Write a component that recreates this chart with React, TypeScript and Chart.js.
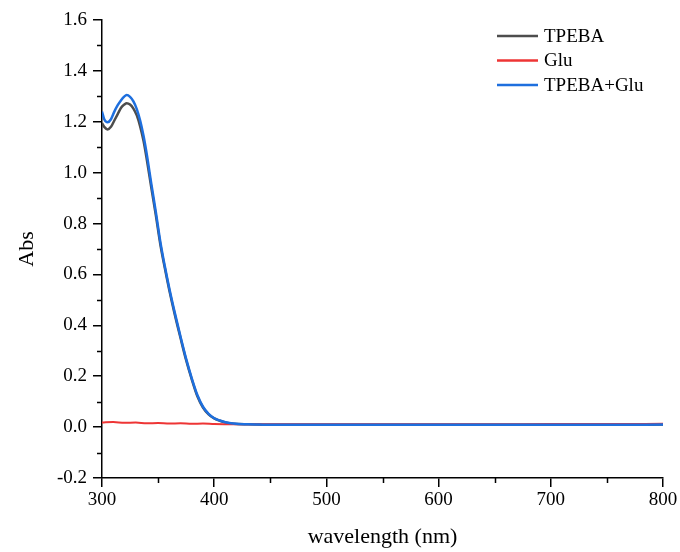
import React, { useEffect, useRef } from "react";
import { Chart, registerables } from "chart.js";

Chart.register(...registerables);

const wavelengths = [300, 302, 305, 308, 311, 314, 317, 320, 322, 325, 328, 331, 334, 337, 340, 344, 348, 352, 356, 360, 365, 370, 375, 380, 385, 390, 395, 400, 405, 410, 415, 420, 430, 440, 450, 475, 500, 550, 600, 650, 700, 750, 800];

const tpeba = [1.195, 1.18, 1.17, 1.18, 1.205, 1.23, 1.255, 1.268, 1.273, 1.268, 1.252, 1.225, 1.182, 1.125, 1.05, 0.94, 0.832, 0.718, 0.625, 0.538, 0.44, 0.35, 0.263, 0.188, 0.121, 0.077, 0.05, 0.034, 0.025, 0.018, 0.014, 0.012, 0.011, 0.01, 0.009, 0.009, 0.009, 0.009, 0.009, 0.009, 0.009, 0.009, 0.01];

const tpebaGlu = [1.24, 1.21, 1.198, 1.21, 1.24, 1.265, 1.285, 1.3, 1.305, 1.298, 1.28, 1.25, 1.205, 1.145, 1.07, 0.955, 0.845, 0.728, 0.632, 0.545, 0.447, 0.355, 0.268, 0.192, 0.126, 0.08, 0.052, 0.035, 0.026, 0.019, 0.015, 0.013, 0.011, 0.01, 0.009, 0.009, 0.009, 0.009, 0.009, 0.009, 0.009, 0.009, 0.01];

const gluWavelengths = [300, 310, 320, 330, 340, 350, 360, 370, 380, 390, 400, 420, 450, 500, 550, 600, 650, 700, 750, 800];
const glu = [0.018, 0.02, 0.017, 0.018, 0.015, 0.016, 0.014, 0.015, 0.013, 0.014, 0.012, 0.011, 0.011, 0.011, 0.011, 0.011, 0.011, 0.012, 0.012, 0.013];

const seriesNames = ["TPEBA", "Glu", "TPEBA+Glu"];
const seriesColors = ["#4d4d4d", "#ee3535", "#1e6fde"];

const yMinorTicks = [-0.1, 0.1, 0.3, 0.5, 0.7, 0.9, 1.1, 1.3, 1.5];
const xMinorTicks = [350, 450, 550, 650, 750];

const FONT = "'Liberation Serif', 'Times New Roman', serif";

export default function App() {
  const ref = useRef<HTMLCanvasElement>(null);

  useEffect(() => {
    document.body.style.margin = "0";
    const canvas = ref.current;
    if (!canvas) return;

    const toPts = (xs: number[], ys: number[]) => xs.map((x, i) => ({ x, y: ys[i] }));

    const extras = {
      id: "extras",
      afterDraw(chart: any) {
        const ctx = chart.ctx;
        const area = chart.chartArea;
        const xs = chart.scales.x;
        const ys = chart.scales.y;
        ctx.save();
        ctx.strokeStyle = "#000";
        ctx.lineWidth = 1.5;
        ctx.beginPath();
        for (const v of yMinorTicks) {
          const py = Math.round(ys.getPixelForValue(v)) + 0.5;
          ctx.moveTo(area.left, py);
          ctx.lineTo(area.left - 5, py);
        }
        for (const v of xMinorTicks) {
          const px = Math.round(xs.getPixelForValue(v)) + 0.5;
          ctx.moveTo(px, area.bottom);
          ctx.lineTo(px, area.bottom + 5);
        }
        ctx.stroke();

        // legend
        const lx0 = 497;
        const lx1 = 538;
        const tx = 544;
        const rows = [36, 60.5, 85];
        ctx.font = `19px ${FONT}`;
        ctx.textBaseline = "middle";
        ctx.textAlign = "left";
        seriesNames.forEach((name, i) => {
          ctx.strokeStyle = seriesColors[i];
          ctx.lineWidth = 2.5;
          ctx.beginPath();
          ctx.moveTo(lx0, rows[i]);
          ctx.lineTo(lx1, rows[i]);
          ctx.stroke();
          ctx.fillStyle = "#000";
          ctx.fillText(name, tx, rows[i] + 1);
        });
        ctx.restore();
      },
    };

    const chart = new Chart(canvas, {
      type: "line",
      data: {
        datasets: [
          {
            label: seriesNames[0],
            data: toPts(wavelengths, tpeba),
            borderColor: seriesColors[0],
            borderWidth: 2.5,
            pointRadius: 0,
            cubicInterpolationMode: "monotone",
            order: 3,
          },
          {
            label: seriesNames[1],
            data: toPts(gluWavelengths, glu),
            borderColor: seriesColors[1],
            borderWidth: 2,
            pointRadius: 0,
            cubicInterpolationMode: "monotone",
            order: 2,
          },
          {
            label: seriesNames[2],
            data: toPts(wavelengths, tpebaGlu),
            borderColor: seriesColors[2],
            borderWidth: 2.5,
            pointRadius: 0,
            cubicInterpolationMode: "monotone",
            order: 1,
          },
        ],
      },
      options: {
        animation: false,
        responsive: false,
        parsing: false as any,
        layout: { padding: { top: 20, right: 17, left: 0, bottom: 0 } },
        plugins: {
          legend: { display: false },
          tooltip: { enabled: false },
        },
        scales: {
          x: {
            type: "linear",
            min: 300,
            max: 800,
            afterFit: (s: any) => {
              s.height = 74;
            },
            ticks: {
              stepSize: 100,
              color: "#000",
              padding: 2,
              font: { family: FONT, size: 19 },
              maxRotation: 0,
            },
            grid: {
              drawOnChartArea: false,
              drawTicks: true,
              tickLength: 9,
              tickColor: "#000",
              lineWidth: 1.5,
            },
            border: { display: true, color: "#000", width: 1.5 },
            title: {
              display: true,
              text: "wavelength (nm)",
              color: "#000",
              font: { family: FONT, size: 22 },
              padding: { top: 0, bottom: 2 },
            },
          },
          y: {
            type: "linear",
            min: -0.2,
            max: 1.6,
            afterFit: (s: any) => {
              s.width = 102;
            },
            ticks: {
              stepSize: 0.2,
              color: "#000",
              padding: 6,
              font: { family: FONT, size: 19 },
              callback: (v: any) => Number(v).toFixed(1),
            },
            grid: {
              drawOnChartArea: false,
              drawTicks: true,
              tickLength: 9,
              tickColor: "#000",
              lineWidth: 1.5,
            },
            border: { display: true, color: "#000", width: 1.5 },
            title: {
              display: true,
              text: "Abs",
              color: "#000",
              font: { family: FONT, size: 22 },
              padding: { top: 14, bottom: 0 },
            },
          },
        },
      },
      plugins: [extras],
    });

    return () => chart.destroy();
  }, []);

  return (
    <div style={{ width: 680, height: 552 }}>
      <canvas ref={ref} width={680} height={552} style={{ display: "block" }} />
    </div>
  );
}
